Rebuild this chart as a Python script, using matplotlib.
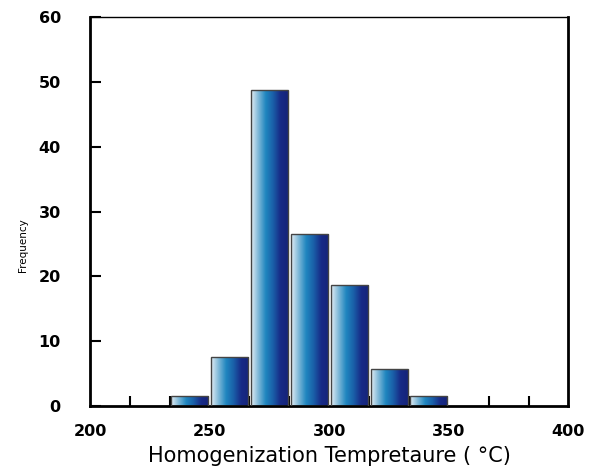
import numpy as np
import matplotlib.pyplot as plt
from matplotlib.colors import LinearSegmentedColormap

# histogram bins (deg C) and counts
bin_edges = [233.33, 250.0, 266.67, 283.33, 300.0, 316.67, 333.33, 350.0]
counts = [1.6, 7.6, 48.7, 26.6, 18.7, 5.7, 1.6]

x_ticks = [200, 250, 300, 350, 400]
y_ticks = [0, 10, 20, 30, 40, 50, 60]

plt.rcParams['font.family'] = ['DejaVu Sans']

fig = plt.figure(figsize=(5.9, 4.69), dpi=100)
ax = fig.add_axes([0.1525, 0.134, 0.811, 0.83])

cmap = LinearSegmentedColormap.from_list(
    "bar", ["#e4eef4", "#7fb8d8", "#1f86bf", "#1a5fa8", "#172a86", "#15237a"])
grad = np.linspace(0, 1, 256).reshape(1, -1)

for i in range(len(counts)):
    x0, x1 = bin_edges[i] + 0.6, bin_edges[i + 1] - 0.6
    h = counts[i]
    im = ax.imshow(grad, cmap=cmap, aspect="auto", extent=[x0, x1, 0, h], zorder=2)
    rect = plt.Rectangle((x0, 0), x1 - x0, h, facecolor="none",
                         edgecolor="#444444", linewidth=1.0, zorder=3)
    ax.add_patch(rect)
    im.set_clip_path(rect)

ax.set_xlim(200, 400)
ax.set_ylim(0, 60)

ax.set_xticks(x_ticks)
ax.set_xticks(np.arange(200 + 200 / 12, 400, 200 / 12), minor=True)
ax.set_yticks(y_ticks)
ax.tick_params(axis="both", which="both", direction="in", labelsize=11.5,
               width=1.5, length=7)
ax.tick_params(axis="x", which="major", length=0, pad=13)
ax.tick_params(axis="y", length=8, pad=21)
ax.yaxis.set_tick_params(which="minor", length=0)
for lab in ax.get_xticklabels() + ax.get_yticklabels():
    lab.set_fontweight("bold")

ax.spines["left"].set_linewidth(2)
ax.spines["bottom"].set_linewidth(2)
ax.spines["top"].set_linewidth(1)
ax.spines["right"].set_linewidth(2)

ax.set_xlabel("Homogenization Tempretaure ( °C)", fontsize=15,
              fontweight="medium", labelpad=5)
ax.set_ylabel("Frequency", fontsize=7.5, family=["Liberation Sans Narrow", "DejaVu Sans"])
ax.yaxis.set_label_coords(-0.13, 0.414)

fig.savefig("out.png", dpi=100)
